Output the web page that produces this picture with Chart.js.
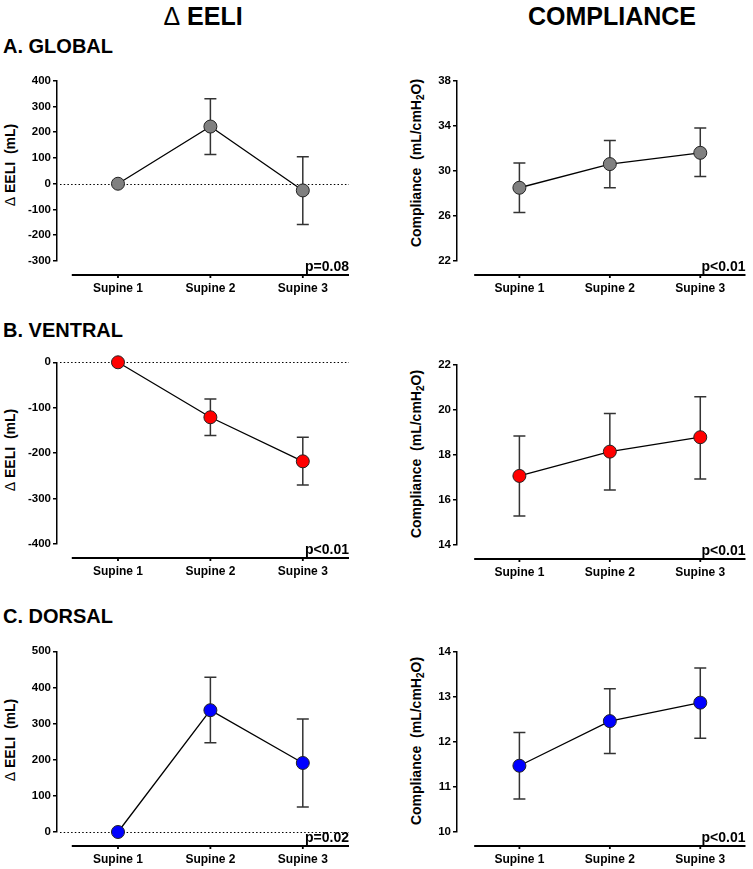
<!DOCTYPE html>
<html>
<head>
<meta charset="utf-8">
<script src="https://cdn.jsdelivr.net/npm/chart.js@4/dist/chart.umd.min.js"></script>
<style>
  body { margin: 0; background: #fff; }
  #page { position: relative; width: 753px; height: 869px; font-family: "Liberation Sans", Arial, sans-serif; color: #000; }
  .hdr { position: absolute; font-weight: bold; font-size: 25px; transform: translate(-50%, -50%); white-space: nowrap; }
  .hdr .delta { font-weight: normal; }
  .row { position: absolute; left: 3px; font-weight: bold; font-size: 20px; transform: translateY(-50%); white-space: nowrap; }
  .ytitle { position: absolute; font-weight: bold; font-size: 14px; white-space: nowrap; transform: translate(-50%, -50%) rotate(-90deg); }
  .ytitle .delta { font-weight: normal; }
  .ytitle sub { font-size: 10px; }
  canvas { position: absolute; }
</style>
</head>
<body>
<div id="page">
  <div class="hdr" style="left:203px; top:16px;"><span class="delta">&Delta;</span> EELI</div>
  <div class="hdr" style="left:612px; top:16px;">COMPLIANCE</div>

  <div class="row" style="top:46px;">A. GLOBAL</div>
  <div class="row" style="top:330px;">B. VENTRAL</div>
  <div class="row" style="top:616px;">C. DORSAL</div>

  <div class="ytitle" style="left:10px; top:165px;"><span class="delta">&Delta;</span> EELI&nbsp;&nbsp;(mL)</div>
  <div class="ytitle" style="left:417px; top:163px;">Compliance&nbsp;&nbsp;(mL/cmH<sub>2</sub>O)</div>
  <div class="ytitle" style="left:10px; top:450px;"><span class="delta">&Delta;</span> EELI&nbsp;&nbsp;(mL)</div>
  <div class="ytitle" style="left:417px; top:454px;">Compliance&nbsp;&nbsp;(mL/cmH<sub>2</sub>O)</div>
  <div class="ytitle" style="left:10px; top:740px;"><span class="delta">&Delta;</span> EELI&nbsp;&nbsp;(mL)</div>
  <div class="ytitle" style="left:417px; top:741px;">Compliance&nbsp;&nbsp;(mL/cmH<sub>2</sub>O)</div>

  <canvas id="globalEeliChart"></canvas>
  <canvas id="globalCompChart"></canvas>
  <canvas id="ventralEeliChart"></canvas>
  <canvas id="ventralCompChart"></canvas>
  <canvas id="dorsalEeliChart"></canvas>
  <canvas id="dorsalCompChart"></canvas>
</div>

<script>
// Data (mean, lower and upper end of error bar)
const categories = ['Supine 1', 'Supine 2', 'Supine 3'];

const globalEeli = [0, 222, -26];
const globalEeliLow = [0, 113, -158];
const globalEeliHigh = [0, 330, 105];
const globalEeliTicks = [-300, -200, -100, 0, 100, 200, 300, 400];

const ventralEeli = [0, -121, -218];
const ventralEeliLow = [0, -161, -270];
const ventralEeliHigh = [0, -81, -165];
const ventralEeliTicks = [-400, -300, -200, -100, 0];

const dorsalEeli = [0, 337, 191];
const dorsalEeliLow = [0, 247, 69];
const dorsalEeliHigh = [0, 428, 313];
const dorsalEeliTicks = [0, 100, 200, 300, 400, 500];

const globalComp = [28.5, 30.6, 31.6];
const globalCompLow = [26.3, 28.5, 29.5];
const globalCompHigh = [30.7, 32.7, 33.8];
const globalCompTicks = [22, 26, 30, 34, 38];

const ventralComp = [17.07, 18.15, 18.79];
const ventralCompLow = [15.29, 16.44, 16.93];
const ventralCompHigh = [18.84, 19.84, 20.59];
const ventralCompTicks = [14, 16, 18, 20, 22];

const dorsalComp = [11.47, 12.46, 12.87];
const dorsalCompLow = [10.73, 11.74, 12.08];
const dorsalCompHigh = [12.21, 13.18, 13.64];
const dorsalCompTicks = [10, 11, 12, 13, 14];

Chart.defaults.font.family = '"Liberation Sans", Arial, sans-serif';
Chart.defaults.color = '#000';

// column geometry (page pixels)
const columns = {
    left:  { canvasLeft: 0,   canvasWidth: 365, axisX: 57,  padRight: 16, xMin: -0.66 },
    right: { canvasLeft: 372, canvasWidth: 381, axisX: 457, padRight: 1,  xMin: -0.69 }
};

// error bars, zero line, offset x axis and p value
function makeExtras(low, high, pText, zeroLine) {
    return {
        id: 'panelExtras',
        beforeDatasetsDraw(chart) {
            const { ctx, chartArea, scales: { x, y } } = chart;
            ctx.save();
            if (zeroLine) {
                const y0 = Math.round(y.getPixelForValue(0)) + 0.5;
                ctx.strokeStyle = '#000';
                ctx.lineWidth = 1.2;
                ctx.setLineDash([1.5, 2.2]);
                ctx.beginPath();
                ctx.moveTo(chartArea.left + 3, y0);
                ctx.lineTo(chartArea.right, y0);
                ctx.stroke();
                ctx.setLineDash([]);
            }
            ctx.strokeStyle = '#333';
            ctx.lineWidth = 1.5;
            low.forEach((lo, i) => {
                const hi = high[i];
                if (lo === hi) return;
                const px = x.getPixelForValue(i);
                const a = y.getPixelForValue(lo);
                const b = y.getPixelForValue(hi);
                ctx.beginPath();
                ctx.moveTo(px, a); ctx.lineTo(px, b);
                ctx.moveTo(px - 6, a); ctx.lineTo(px + 6, a);
                ctx.moveTo(px - 6, b); ctx.lineTo(px + 6, b);
                ctx.stroke();
            });
            ctx.restore();
        },
        afterDraw(chart) {
            const { ctx, chartArea, scales: { x } } = chart;
            const ly = chartArea.bottom + 14;
            ctx.save();
            ctx.strokeStyle = '#000';
            ctx.lineWidth = 1.8;
            ctx.beginPath();
            ctx.moveTo(x.getPixelForValue(-0.5), ly);
            ctx.lineTo(x.getPixelForValue(2.5), ly);
            categories.forEach((c, i) => {
                const px = x.getPixelForValue(i);
                ctx.moveTo(px, ly);
                ctx.lineTo(px, ly + 3);
            });
            ctx.stroke();
            ctx.font = 'bold 14px "Liberation Sans", Arial, sans-serif';
            ctx.fillStyle = '#000';
            ctx.textAlign = 'right';
            ctx.textBaseline = 'alphabetic';
            ctx.fillText(pText, chartArea.right, chartArea.bottom + 10);
            ctx.restore();
        }
    };
}

function makePanel(canvasId, side, top, bottom, means, low, high, ticks, fill, pText, zeroLine) {
    const col = columns[side];
    const canvasTop = Math.round(top) - 12;
    const height = Math.round(bottom) + 37 - canvasTop;
    const canvas = document.getElementById(canvasId);
    canvas.width = col.canvasWidth;
    canvas.height = height;
    canvas.style.left = col.canvasLeft + 'px';
    canvas.style.top = canvasTop + 'px';
    canvas.style.width = col.canvasWidth + 'px';
    canvas.style.height = height + 'px';

    new Chart(canvas.getContext('2d'), {
        type: 'line',
        data: {
            datasets: [{
                data: means.map((v, i) => ({ x: i, y: v })),
                borderColor: '#000',
                borderWidth: 1.3,
                pointRadius: 6.5,
                pointBackgroundColor: fill,
                pointBorderColor: '#222',
                pointBorderWidth: 1,
                clip: false
            }]
        },
        options: {
            responsive: false,
            animation: false,
            events: [],
            layout: { padding: { top: top - canvasTop, right: col.padRight, left: 0, bottom: 0 } },
            plugins: { legend: { display: false }, tooltip: { enabled: false } },
            scales: {
                x: {
                    type: 'linear',
                    min: col.xMin,
                    max: 2.5,
                    grid: { display: false, drawTicks: false },
                    border: { display: false },
                    afterBuildTicks: axis => { axis.ticks = categories.map((c, i) => ({ value: i })); },
                    afterFit: axis => { axis.height = 37; },
                    ticks: {
                        autoSkip: false,
                        maxRotation: 0,
                        padding: 20,
                        font: { size: 12, weight: 'bold' },
                        callback: v => categories[v]
                    }
                },
                y: {
                    min: ticks[0],
                    max: ticks[ticks.length - 1],
                    afterBuildTicks: axis => { axis.ticks = ticks.map(v => ({ value: v })); },
                    afterFit: axis => { axis.width = col.axisX - col.canvasLeft; },
                    grid: { drawOnChartArea: false, drawTicks: true, tickLength: 4, color: '#000', lineWidth: 1.5 },
                    border: { display: true, color: '#000', width: 1.5 },
                    ticks: { padding: 2, font: { size: 11.5, weight: 'bold' } }
                }
            }
        },
        plugins: [makeExtras(low, high, pText, zeroLine)]
    });
}

makePanel('globalEeliChart', 'left', 80.7, 261, globalEeli, globalEeliLow, globalEeliHigh, globalEeliTicks, '#808080', 'p=0.08', true);
makePanel('globalCompChart', 'right', 80.7, 260.7, globalComp, globalCompLow, globalCompHigh, globalCompTicks, '#808080', 'p<0.01', false);
makePanel('ventralEeliChart', 'left', 362.3, 544.3, ventralEeli, ventralEeliLow, ventralEeliHigh, ventralEeliTicks, '#ff0000', 'p<0.01', true);
makePanel('ventralCompChart', 'right', 365, 545, ventralComp, ventralCompLow, ventralCompHigh, ventralCompTicks, '#ff0000', 'p<0.01', false);
makePanel('dorsalEeliChart', 'left', 651.3, 831.7, dorsalEeli, dorsalEeliLow, dorsalEeliHigh, dorsalEeliTicks, '#0000ff', 'p=0.02', true);
makePanel('dorsalCompChart', 'right', 651.7, 832.3, dorsalComp, dorsalCompLow, dorsalCompHigh, dorsalCompTicks, '#0000ff', 'p<0.01', false);
</script>
</body>
</html>
